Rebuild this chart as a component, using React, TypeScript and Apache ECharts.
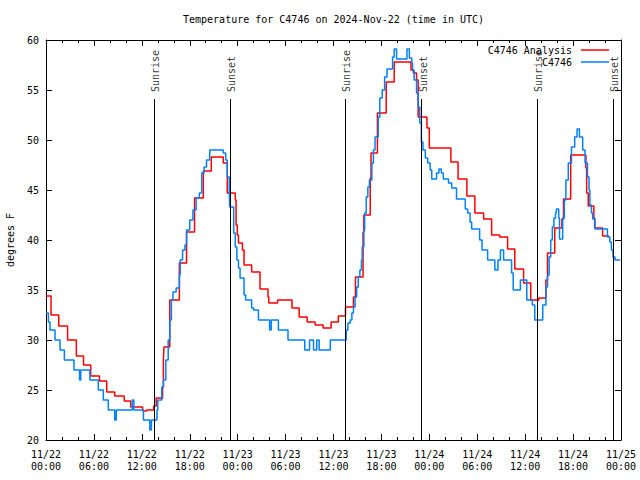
import React, { useEffect, useRef } from "react";
import * as echarts from "echarts";

// hours since 11/22 00:00 UTC
const analysisTimes = [0, 0.63, 1.6, 2.7, 3.8, 4.7, 5.6, 6.7, 7.6, 8.6, 9.8, 10.6, 12.1, 12.6, 13.5, 13.8, 14.6, 14.7, 14.77, 15.5, 16.7, 17.6, 18.6, 19.7, 20.7, 22.2, 22.7, 23.7, 23.8, 23.95, 24.1, 24.6, 24.8, 25.75, 26.8, 27.8, 27.9, 29.0, 30.8, 31.7, 32.7, 33.7, 34.7, 35.7, 36.6, 37.5, 38.5, 38.75, 39.7, 39.8, 40.6, 40.7, 41.5, 42.6, 43.6, 45.7, 46.0, 46.4, 46.6, 47.7, 48.0, 50.7, 51.6, 52.7, 53.7, 54.8, 55.8, 56.8, 57.8, 58.7, 59.8, 60.7, 61.7, 62.6, 62.8, 63.7, 64.6, 64.8, 65.7, 67.6, 67.7, 67.9, 68.6, 68.7, 69.7, 70.5];
const analysisTemps = [34.4, 32.5, 31.4, 30.0, 28.4, 27.5, 26.4, 25.9, 24.8, 24.4, 23.9, 23.3, 22.9, 23.0, 23.4, 24.2, 25.3, 28.0, 29.3, 34.0, 37.7, 40.8, 44.2, 46.9, 48.3, 47.7, 44.7, 44.0, 41.5, 40.5, 39.7, 39.0, 37.5, 36.8, 35.1, 34.3, 33.7, 34.0, 33.2, 32.3, 31.8, 31.5, 31.2, 31.8, 32.4, 33.3, 34.3, 36.3, 40.8, 42.5, 46.2, 48.7, 52.7, 55.8, 57.8, 57.0, 56.7, 56.0, 52.3, 51.2, 49.2, 47.8, 46.1, 44.4, 42.7, 42.1, 40.5, 40.3, 39.1, 37.1, 35.7, 34.0, 34.2, 36.0, 38.7, 41.2, 42.1, 44.1, 48.5, 47.2, 44.7, 43.4, 42.2, 41.2, 40.4, 40.4];

const obsTimes = [0, 0.3, 0.5, 1.13, 1.76, 2.3, 3.5, 4.2, 4.35, 5.5, 6.55, 7.18, 7.8, 8.6, 8.8, 10.8, 11.0, 12.2, 13.0, 13.2, 13.9, 14.0, 14.5, 14.7, 15.0, 15.3, 15.5, 15.7, 15.9, 16.3, 16.7, 16.8, 17.1, 17.4, 17.6, 18.0, 18.4, 18.8, 19.2, 19.5, 19.8, 20.1, 20.5, 22.2, 22.5, 22.7, 22.95, 23.0, 23.5, 23.7, 23.9, 24.1, 24.3, 24.8, 25.0, 25.75, 26.0, 26.6, 28.0, 28.2, 29.1, 30.3, 32.4, 33.0, 33.5, 33.9, 34.2, 35.6, 37.6, 37.8, 38.1, 38.3, 38.5, 38.7, 38.9, 39.1, 39.3, 39.5, 39.6, 39.8, 39.9, 40.1, 40.3, 40.5, 40.8, 41.0, 41.2, 41.6, 41.8, 42.1, 42.4, 42.7, 43.4, 43.6, 43.9, 45.2, 45.5, 45.8, 45.9, 46.1, 46.4, 46.6, 46.8, 47.0, 47.2, 47.5, 47.8, 48.1, 48.3, 48.9, 49.2, 49.5, 49.75, 50.4, 50.8, 51.4, 52.5, 52.8, 53.1, 53.3, 54.3, 54.6, 55.3, 56.2, 56.6, 56.9, 57.3, 58.3, 58.5, 59.4, 60.2, 60.9, 61.2, 62.2, 62.6, 62.8, 63.0, 63.2, 63.4, 63.6, 63.8, 63.9, 64.2, 64.3, 64.7, 64.9, 65.1, 65.4, 65.8, 66.2, 66.5, 66.8, 67.2, 67.5, 67.8, 68.0, 68.1, 68.3, 68.45, 68.75, 70.3, 70.6, 70.8, 71.0, 71.25, 71.9];
const obsTemps = [32.7, 31.8, 31.0, 30.0, 29.0, 28.0, 27.0, 26.0, 27.0, 26.0, 25.0, 24.0, 23.0, 22.0, 23.0, 24.0, 23.0, 22.0, 21.0, 22.0, 23.0, 24.0, 25.3, 26.0, 28.0, 30.0, 32.0, 34.0, 34.8, 35.2, 36.5, 38.0, 39.0, 39.5, 41.0, 42.0, 43.0, 44.2, 44.7, 46.7, 47.3, 48.0, 49.0, 48.7, 48.0, 46.3, 45.0, 43.3, 40.7, 39.3, 38.0, 37.2, 36.2, 34.5, 34.0, 33.2, 33.0, 32.0, 31.0, 32.0, 31.0, 30.0, 29.0, 30.0, 29.0, 30.0, 29.0, 30.0, 31.0, 31.7, 32.0, 32.7, 33.3, 34.3, 35.3, 36.3, 37.0, 38.0, 39.3, 41.0, 42.7, 44.3, 45.3, 46.0, 47.7, 49.0, 50.3, 52.3, 54.2, 55.0, 56.3, 57.1, 58.3, 59.1, 58.1, 59.1, 58.2, 57.7, 57.0, 56.0, 54.7, 53.3, 51.7, 49.8, 49.0, 48.2, 47.7, 47.0, 46.1, 46.7, 47.1, 46.7, 46.1, 45.7, 45.2, 44.1, 43.1, 42.7, 41.8, 41.1, 40.0, 39.0, 38.0, 37.0, 38.0, 39.0, 38.0, 36.7, 35.0, 36.0, 34.0, 33.5, 32.0, 33.5, 35.3, 36.5, 38.3, 40.0, 41.3, 42.2, 42.7, 43.1, 42.2, 40.1, 42.2, 44.0, 46.0, 47.7, 49.3, 50.3, 51.1, 50.3, 49.0, 47.7, 46.3, 45.0, 43.5, 42.7, 42.1, 41.1, 40.3, 39.8, 39.0, 38.3, 38.0, 38.0];

const sunTimes = [13.55, 23.08, 37.5, 47.04, 61.5, 71.04];
const sunLabels = ["Sunrise", "Sunset", "Sunrise", "Sunset", "Sunrise", "Sunset"];
const sunLineTop = 54.1;
const sunLabelBase = 54.8;

const xMin = 0;
const xMax = 72;
const xInterval = 6;
const yMin = 20;
const yMax = 60;
const yInterval = 5;

const FONT = "DejaVu Sans Mono";

export default function App() {
  const ref = useRef<HTMLDivElement>(null);
  useEffect(() => {
    if (!ref.current) return;
    const chart = echarts.init(ref.current, null, { renderer: "svg" });
    const xLabel = (v: number) => {
      const h = Math.round(v);
      const day = 22 + Math.floor(h / 24);
      const hh = String(h % 24).padStart(2, "0");
      return `11/${day}\n${hh}:00`;
    };
    const baseX = {
      type: "value",
      min: xMin,
      max: xMax,
      interval: xInterval,
      axisLine: { show: true, onZero: false, lineStyle: { color: "#000", width: 1 } },
      axisTick: { show: true, inside: true, length: 6, lineStyle: { color: "#000" } },
      minorTick: { show: true, splitNumber: 3, length: 3, lineStyle: { color: "#000" } },
      splitLine: { show: false },
    };
    const baseY = {
      type: "value",
      min: yMin,
      max: yMax,
      interval: yInterval,
      axisLine: { show: true, onZero: false, lineStyle: { color: "#000", width: 1 } },
      axisTick: { show: true, inside: true, length: 6, lineStyle: { color: "#000" } },
      splitLine: { show: false },
    };
    chart.setOption({
      animation: false,
      backgroundColor: "#fff",
      textStyle: { fontFamily: FONT },
      title: {
        text: "Temperature for C4746 on 2024-Nov-22 (time in UTC)",
        left: 183,
        top: 14,
        padding: 0,
        textStyle: { fontFamily: FONT, fontSize: 10, fontWeight: "normal", color: "#000" },
      },
      legend: [
        {
          data: ["C4746 Analysis"],
          right: 31,
          top: 45,
          padding: 0,
          align: "right",
          icon: "rect",
          itemWidth: 28,
          itemHeight: 1.5,
          textStyle: { fontFamily: FONT, fontSize: 10, color: "#000", padding: [0, 4, 0, 0] },
        },
        {
          data: ["C4746"],
          right: 31,
          top: 57,
          padding: 0,
          align: "right",
          icon: "rect",
          itemWidth: 28,
          itemHeight: 1.5,
          textStyle: { fontFamily: FONT, fontSize: 10, color: "#000", padding: [0, 4, 0, 0] },
        },
      ],
      grid: { left: 46, right: 19, top: 40, bottom: 40, containLabel: false, outerBoundsMode: "none" },
      xAxis: [
        {
          ...baseX,
          position: "bottom",
          axisLabel: {
            show: true,
            formatter: xLabel,
            fontFamily: FONT,
            fontSize: 10,
            color: "#000",
            lineHeight: 12,
            margin: 8,
            showMaxLabel: true,
            showMinLabel: true,
          },
        },
        { ...baseX, position: "top", axisLabel: { show: false } },
      ],
      yAxis: [
        {
          ...baseY,
          position: "left",
          name: "degrees F",
          nameLocation: "middle",
          nameGap: 31,
          nameTextStyle: { fontFamily: FONT, fontSize: 10, color: "#000" },
          axisLabel: { fontFamily: FONT, fontSize: 10, color: "#000", margin: 7 },
        },
        { ...baseY, position: "right", axisLabel: { show: false } },
      ],
      series: [
        {
          name: "sun",
          type: "scatter",
          xAxisIndex: 0,
          yAxisIndex: 0,
          symbolSize: 0,
          silent: true,
          data: sunTimes.map((t, i) => ({ value: [t, sunLabelBase], name: sunLabels[i] })),
          label: {
            show: true,
            formatter: "{b}",
            position: "inside",
            rotate: 90,
            align: "left",
            verticalAlign: "middle",
            offset: [0, 1.5],
            fontFamily: FONT,
            fontSize: 10,
            color: "#000",
          },
          markLine: {
            silent: true,
            symbol: "none",
            label: { show: false },
            lineStyle: { color: "#000", width: 1, type: "solid" },
            data: sunTimes.map((t) => [{ coord: [t, yMin] }, { coord: [t, sunLineTop] }]),
          },
        },
        {
          name: "C4746 Analysis",
          type: "line",
          step: "end",
          xAxisIndex: 0,
          yAxisIndex: 0,
          showSymbol: false,
          symbol: "none",
          color: "#ff0000",
          lineStyle: { color: "#ff0000", width: 1.5 },
          data: analysisTimes.map((t, i) => [t, analysisTemps[i]]),
        },
        {
          name: "C4746",
          type: "line",
          step: "end",
          xAxisIndex: 0,
          yAxisIndex: 0,
          showSymbol: false,
          symbol: "none",
          color: "#0080ff",
          lineStyle: { color: "#0080ff", width: 1.5 },
          data: obsTimes.map((t, i) => [t, obsTemps[i]]),
        },
      ],
    });
    return () => chart.dispose();
  }, []);
  return <div ref={ref} style={{ width: 640, height: 480, position: "absolute", left: 0, top: 0 }} />;
}
